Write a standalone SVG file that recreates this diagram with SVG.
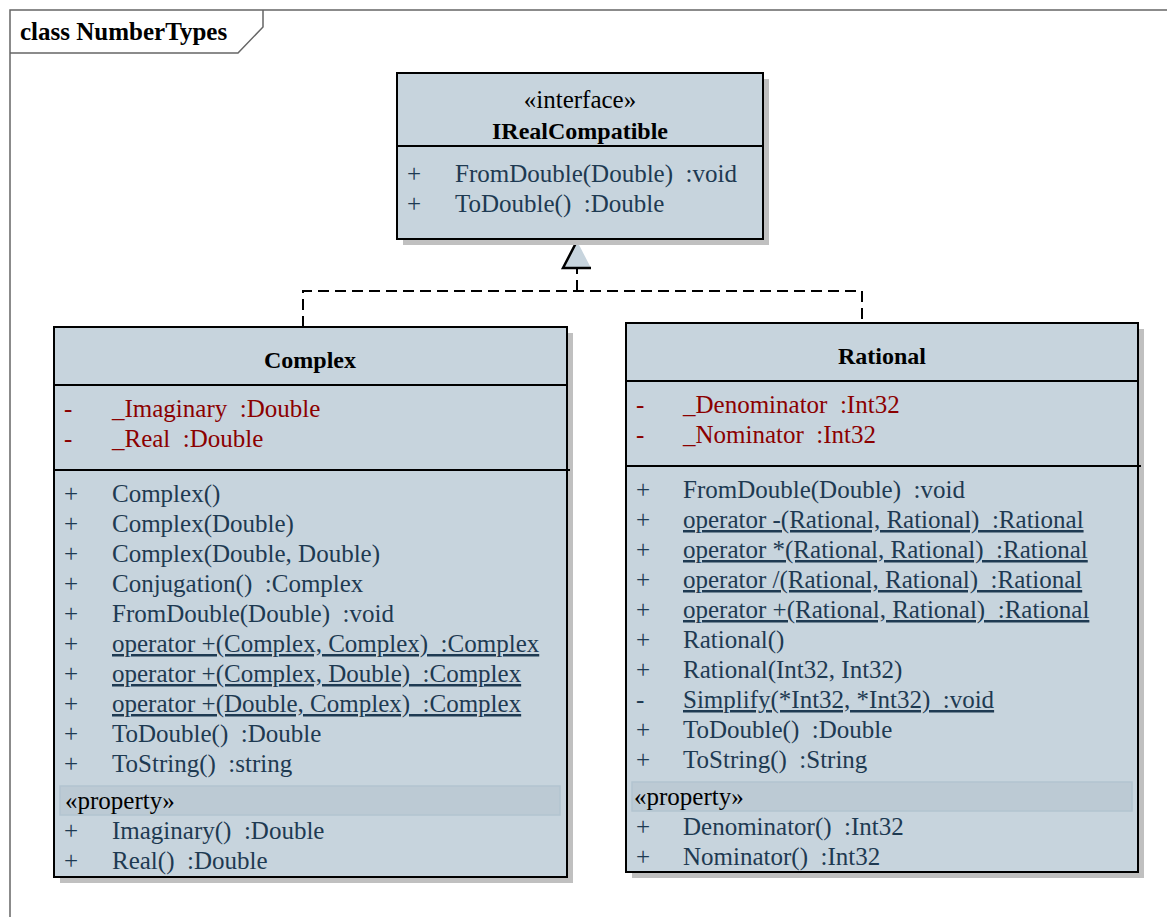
<svg xmlns="http://www.w3.org/2000/svg" width="1167" height="917" viewBox="0 0 1167 917">
  <style>
    text { font-family: "Liberation Serif", "Times New Roman", serif; font-size: 25px; white-space: pre; }
    .box { fill: #c7d4dd; stroke: #000; stroke-width: 2; }
    .shadow { fill: #c0c0c0; }
    .sep { stroke: #000; stroke-width: 2; }
    .title { font-weight: bold; fill: #000; text-anchor: middle; font-size: 24px; }
    .stereo { fill: #000; text-anchor: middle; }
    .op { fill: #1e3a52; }
    .attr { fill: #8b0000; }
    .u { text-decoration: underline; }
    .band { fill: #bccad4; stroke: #b3c4d0; stroke-width: 1.5; }
    .prop { fill: #000; }
    .frame { fill: none; stroke: #666; stroke-width: 1.5; }
    .dash { fill: none; stroke: #000; stroke-width: 2; stroke-dasharray: 11 6; }
  </style>

  <rect width="1167" height="917" fill="#fff"/>

  <!-- diagram frame with name tab -->
  <g id="frame">
    <path class="frame" d="M10,917 V10 H1167"/>
    <path class="frame" d="M10,53 H238 L263,27 V10"/>
    <text x="20" y="40" style="font-weight:bold;font-size:25px" fill="#000">class NumberTypes</text>
  </g>

  <!-- realization connectors -->
  <g id="connectors">
    <path class="dash" d="M303,327 V291 H862 V323"/>
    <path class="dash" d="M577,291 V268"/>
    <polygon points="577,241 563,268 591,268" fill="#c7d4dd"/>
    <path d="M577,241 L563,268 H591" fill="none" stroke="#000" stroke-width="2.5"/>
  </g>

  <!-- interface IRealCompatible -->
  <g id="IRealCompatible">
    <rect class="shadow" x="403" y="79" width="366" height="166"/>
    <rect class="box" x="397" y="73" width="366" height="166"/>
    <line class="sep" x1="397" y1="146" x2="763" y2="146"/>
    <text class="stereo" x="580" y="108">«interface»</text>
    <text class="title" x="580" y="139">IRealCompatible</text>
    <text class="op" x="407" y="182">+</text><text class="op" x="455" y="182">FromDouble(Double)  :void</text>
    <text class="op" x="407" y="212">+</text><text class="op" x="455" y="212">ToDouble()  :Double</text>
  </g>

  <!-- class Complex -->
  <g id="Complex">
    <rect class="shadow" x="60" y="333" width="513" height="550"/>
    <rect class="box" x="54" y="327" width="513" height="550"/>
    <line class="sep" x1="54" y1="385" x2="567" y2="385"/>
    <line class="sep" x1="54" y1="470" x2="570" y2="470"/>
    <text class="title" x="310" y="368">Complex</text>
    <text class="attr" x="64" y="417">-</text><text class="attr" x="112" y="417">_Imaginary  :Double</text>
    <text class="attr" x="64" y="447">-</text><text class="attr" x="112" y="447">_Real  :Double</text>
    <g class="op">
      <text x="64" y="502">+</text><text x="112" y="502">Complex()</text>
      <text x="64" y="532">+</text><text x="112" y="532">Complex(Double)</text>
      <text x="64" y="562">+</text><text x="112" y="562">Complex(Double, Double)</text>
      <text x="64" y="592">+</text><text x="112" y="592">Conjugation()  :Complex</text>
      <text x="64" y="622">+</text><text x="112" y="622">FromDouble(Double)  :void</text>
      <text x="64" y="652">+</text><text class="u" x="112" y="652">operator +(Complex, Complex)  :Complex</text>
      <text x="64" y="682">+</text><text class="u" x="112" y="682">operator +(Complex, Double)  :Complex</text>
      <text x="64" y="712">+</text><text class="u" x="112" y="712">operator +(Double, Complex)  :Complex</text>
      <text x="64" y="742">+</text><text x="112" y="742">ToDouble()  :Double</text>
      <text x="64" y="772">+</text><text x="112" y="772">ToString()  :string</text>
    </g>
    <rect class="band" x="60" y="786" width="500" height="29"/>
    <text class="prop" x="65" y="809">«property»</text>
    <g class="op">
      <text x="64" y="839">+</text><text x="112" y="839">Imaginary()  :Double</text>
      <text x="64" y="869">+</text><text x="112" y="869">Real()  :Double</text>
    </g>
  </g>

  <!-- class Rational -->
  <g id="Rational">
    <rect class="shadow" x="632" y="329" width="512" height="549"/>
    <rect class="box" x="626" y="323" width="512" height="549"/>
    <line class="sep" x1="626" y1="381" x2="1138" y2="381"/>
    <line class="sep" x1="626" y1="466" x2="1141" y2="466"/>
    <text class="title" x="882" y="364">Rational</text>
    <text class="attr" x="636" y="413">-</text><text class="attr" x="683" y="413">_Denominator  :Int32</text>
    <text class="attr" x="636" y="443">-</text><text class="attr" x="683" y="443">_Nominator  :Int32</text>
    <g class="op">
      <text x="636" y="498">+</text><text x="683" y="498">FromDouble(Double)  :void</text>
      <text x="636" y="528">+</text><text class="u" x="683" y="528">operator -(Rational, Rational)  :Rational</text>
      <text x="636" y="558">+</text><text class="u" x="683" y="558">operator *(Rational, Rational)  :Rational</text>
      <text x="636" y="588">+</text><text class="u" x="683" y="588">operator /(Rational, Rational)  :Rational</text>
      <text x="636" y="618">+</text><text class="u" x="683" y="618">operator +(Rational, Rational)  :Rational</text>
      <text x="636" y="648">+</text><text x="683" y="648">Rational()</text>
      <text x="636" y="678">+</text><text x="683" y="678">Rational(Int32, Int32)</text>
      <text x="636" y="708">-</text><text class="u" x="683" y="708">Simplify(*Int32, *Int32)  :void</text>
      <text x="636" y="738">+</text><text x="683" y="738">ToDouble()  :Double</text>
      <text x="636" y="768">+</text><text x="683" y="768">ToString()  :String</text>
    </g>
    <rect class="band" x="632" y="782" width="500" height="29"/>
    <text class="prop" x="634" y="805">«property»</text>
    <g class="op">
      <text x="636" y="835">+</text><text x="683" y="835">Denominator()  :Int32</text>
      <text x="636" y="865">+</text><text x="683" y="865">Nominator()  :Int32</text>
    </g>
  </g>
</svg>
